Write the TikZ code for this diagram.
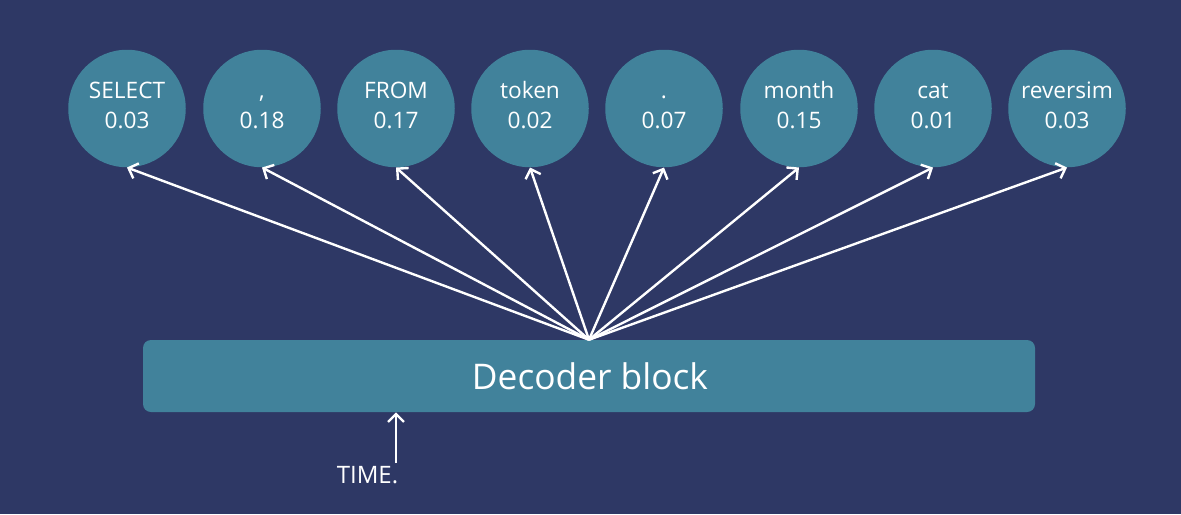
\documentclass[tikz,border=0pt]{standalone}
\usepackage{fontspec}
\setmainfont{Open Sans}
\usetikzlibrary{arrows.meta}
\definecolor{bgnavy}{RGB}{46,56,101}
\definecolor{tealfill}{RGB}{65,130,155}
\tikzset{
  tok/.style={circle, fill=tealfill, minimum size=117.5*0.75pt, inner sep=0pt},
  toktxt/.style={anchor=base, text=white, font=\fontsize{17pt}{18pt}\selectfont, inner sep=0pt},
  blk/.style={rounded corners=6pt, fill=tealfill},
  arr/.style={white, line width=1.8pt, -{Straight Barb[length=6pt, width=12pt, line width=1.8pt]}},
}
\begin{document}
\begin{tikzpicture}[x=0.75pt, y=-0.75pt]
\fill[bgnavy] (0,0) rectangle (1181,514);
\useasboundingbox (0,0) rectangle (1181,514);
% tokens
\foreach \n/\x/\w/\p in {1/127/SELECT/0.03, 2/262/{,}/0.18, 3/396/FROM/0.17, 4/530/token/0.02, 5/664/./0.07, 6/799/month/0.15, 7/933/cat/0.01, 8/1067/reversim/0.03}{
  \node[tok] (c\n) at (\x,108.5) {};
  \node[toktxt] (w\n) at (\x,98) {\w};
  \node[toktxt] (p\n) at (\x,128) {\p};
}
% decoder block
\fill[blk] (143,340) rectangle (1035,412);
\node[inner sep=0pt, minimum width=892*0.75pt, minimum height=72*0.75pt] (blk) at (589,376) {};
\node[text=white, font=\fontsize{26.5pt}{30pt}\selectfont] (blktxt) at (590,376) {Decoder block};
% arrows
\foreach \n in {1,...,8}{
  \draw[arr] (blk.north) -- (c\n.south);
}
% time input
\node[text=white, font=\fontsize{18pt}{20pt}\selectfont, anchor=base] (time) at (367.5,483) {TIME.};
\coordinate (timein) at (396,463);
\draw[arr] (timein) -- (timein |- blk.south);
\end{tikzpicture}
\end{document}
